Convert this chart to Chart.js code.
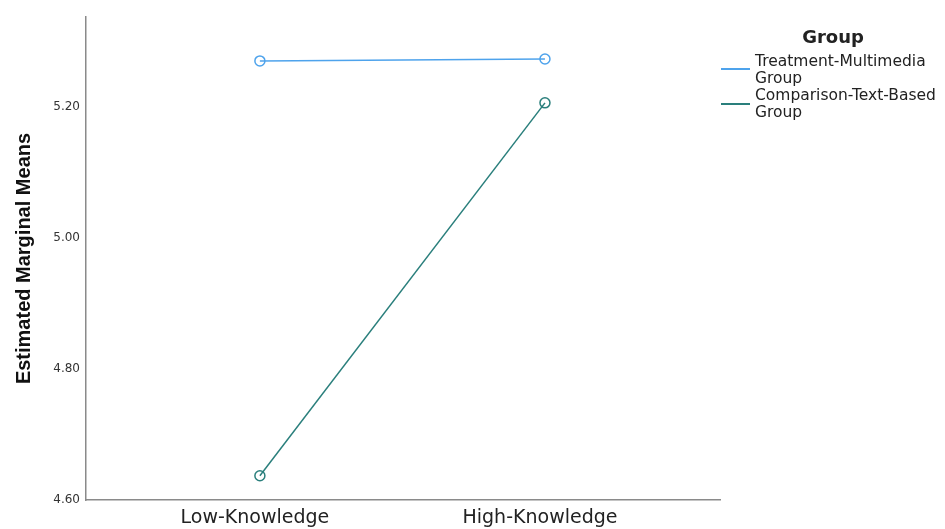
<!DOCTYPE html>
<html>
<head>
<meta charset="utf-8">
<script src="https://cdn.jsdelivr.net/npm/chart.js@4"></script>
<style>
  html, body { margin: 0; padding: 0; background: #fff; }
  #wrap { position: relative; width: 945px; height: 529px; }
  #legend { position: absolute; left: 715px; top: 26px; width: 230px; font-family: "DejaVu Sans", sans-serif; color: #222; }
  #legend .title { font-weight: bold; font-size: 18px; line-height: 21px; text-align: center; margin-left: 6px; margin-bottom: 6px; }
  #legend .item { position: relative; padding-left: 40px; font-size: 15.5px; line-height: 17px; }
  #legend .swatch { position: absolute; left: 6px; width: 29px; height: 0; border-top: 2px solid; }
</style>
</head>
<body>
<div id="wrap">
  <canvas id="chart" width="945" height="529"></canvas>
  <div id="legend"></div>
</div>
<script>
// categories and series
const categories = ['Low-Knowledge', 'High-Knowledge'];
const treatmentMeans = [5.270, 5.273];
const comparisonMeans = [4.637, 5.206];
const seriesNames = ['Treatment-Multimedia Group', 'Comparison-Text-Based Group'];
const seriesColors = ['#4ea3ec', '#2a7f7c'];
const yTicks = [4.60, 4.80, 5.00, 5.20];

const FONT = '"DejaVu Sans", sans-serif';

function makeDataset(name, values, color){
    return {
        label: name,
        data: values.map((v, i) => ({x: i, y: v})),
        borderColor: color,
        backgroundColor: 'rgba(255,255,255,0)',
        borderWidth: 1.5,
        pointRadius: 5,
        pointBorderWidth: 1.5,
        pointBackgroundColor: 'rgba(255,255,255,0)',
        pointBorderColor: color,
        tension: 0
    };
}

const ctx = document.getElementById('chart');
new Chart(ctx, {
    type: 'line',
    data: {
        datasets: [
            makeDataset(seriesNames[0], treatmentMeans, seriesColors[0]),
            makeDataset(seriesNames[1], comparisonMeans, seriesColors[1])
        ]
    },
    options: {
        responsive: false,
        animation: false,
        layout: { padding: { top: 17, right: 225, left: 0, bottom: 0 } },
        plugins: { legend: { display: false }, tooltip: { enabled: false } },
        scales: {
            x: {
                type: 'linear',
                min: -0.61,
                max: 1.614,
                grid: { display: false, drawTicks: false },
                border: { display: true, color: '#8a8a8a', width: 1.5 },
                afterBuildTicks: s => { s.ticks = categories.map((c, i) => ({value: i})); },
                afterFit: s => { s.height = 29; },
                ticks: {
                    padding: 7,
                    labelOffset: -5,
                    color: '#222',
                    font: { family: FONT, size: 19 },
                    callback: v => categories[v]
                }
            },
            y: {
                min: 4.6,
                max: 5.337,
                grid: { display: false, drawTicks: false },
                border: { display: true, color: '#8a8a8a', width: 1.5 },
                afterBuildTicks: s => { s.ticks = yTicks.map(v => ({value: v})); },
                afterFit: s => { s.width = 86; },
                ticks: {
                    padding: 6,
                    color: '#333',
                    font: { family: FONT, size: 12 },
                    callback: v => v.toFixed(2)
                },
                title: {
                    display: true,
                    text: 'Estimated Marginal Means',
                    color: '#111',
                    font: { family: '"Liberation Sans", sans-serif', size: 20, weight: 'bold' },
                    padding: { top: 12, bottom: 0 }
                }
            }
        }
    }
});

// legend built from the series arrays
const legend = document.getElementById('legend');
legend.innerHTML = '<div class="title">Group</div>' + seriesNames.map((n, i) => {
    const words = n.split(' ');
    return '<div class="item"><span class="swatch" style="top:' + (15 + i) + 'px;border-color:' + seriesColors[i] + '"></span>' +
        words.slice(0, -1).join(' ') + '<br>' + words[words.length - 1] + '</div>';
}).join('');
</script>
</body>
</html>
